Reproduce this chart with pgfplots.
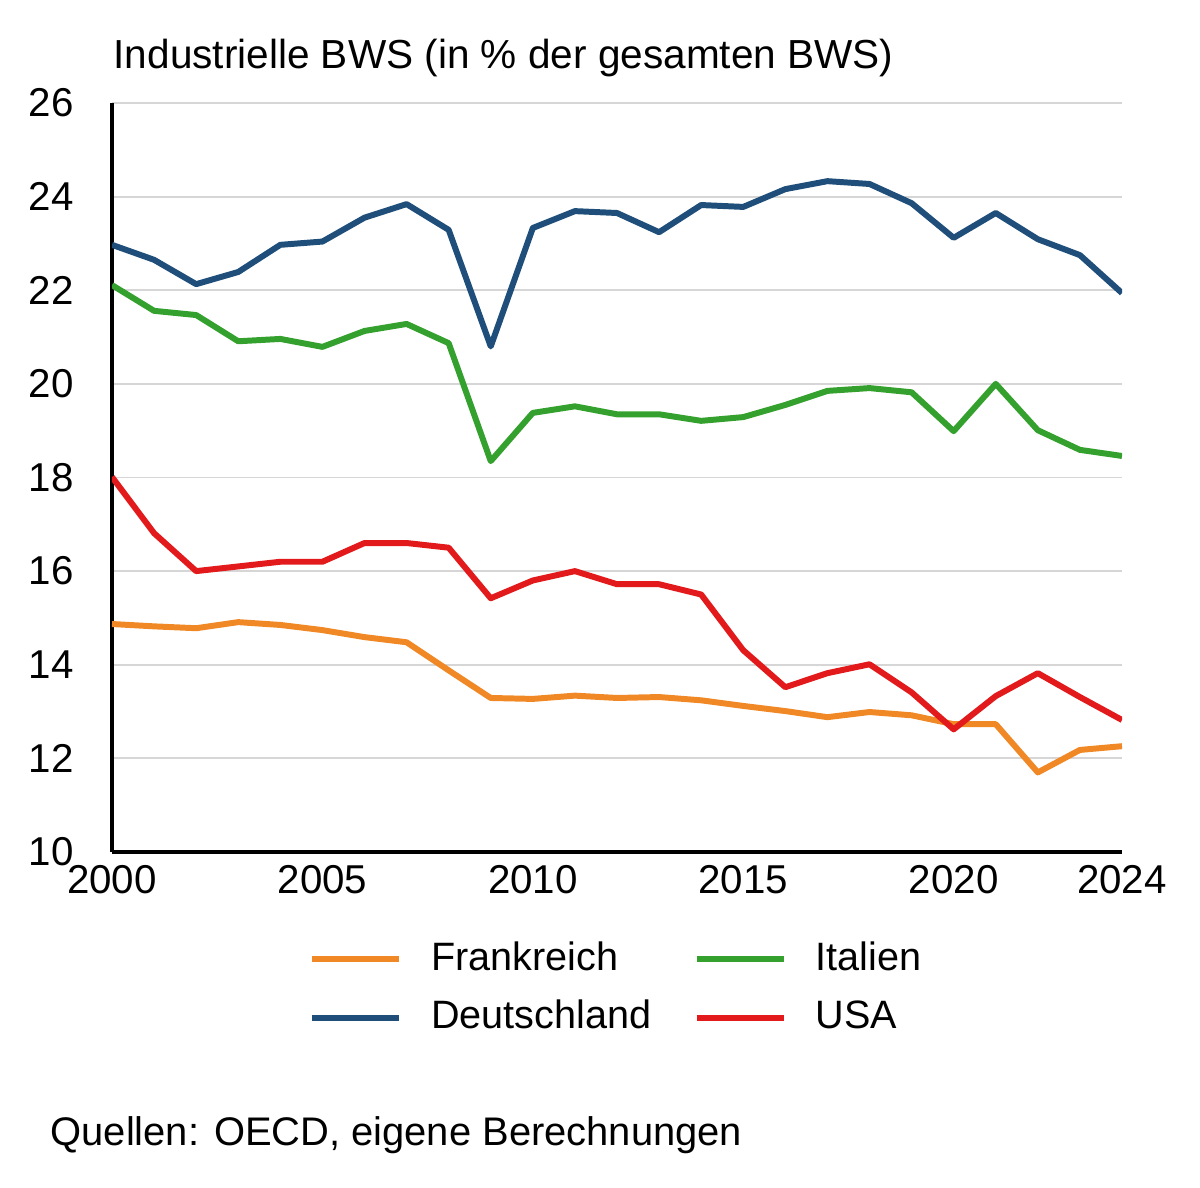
\documentclass[border=0pt]{standalone}
\usepackage{pgfplots}
\pgfplotsset{compat=1.18}
\usepackage{fontspec}
\setmainfont{Liberation Sans}
\definecolor{cFR}{RGB}{240,136,38}
\definecolor{cIT}{RGB}{52,160,45}
\definecolor{cDE}{RGB}{30,78,121}
\definecolor{cUS}{RGB}{226,26,28}
\definecolor{cGrid}{RGB}{214,214,214}
\begin{document}
\fontsize{14}{16}\selectfont
\begin{tikzpicture}
\path[use as bounding box] (-40.32pt,-120.96pt) rectangle (391.68pt,306.72pt);
\begin{axis}[
  at={(0,0)}, anchor=south west,
  scale only axis, width=363.6pt, height=269.64pt,
  xmin=2000, xmax=2024, ymin=10, ymax=26,
  xtick={2000,2005,2010,2015,2020,2024},
  ytick={10,12,14,16,18,20,22,24,26},
  axis x line=bottom, axis y line=left,
  axis line style={-, line width=1.1pt, black},
  major tick length=0pt,
  ymajorgrids, grid style={line width=0.7pt, cGrid},
  /pgf/number format/assume math mode=true,
  /pgf/number format/1000 sep={},
  ticklabel style={font=\fontsize{14.5}{16}\selectfont},
  yticklabel style={xshift=-9pt},
  every axis plot/.append style={line width=2.15pt, line join=round, mark=none},
  legend columns=2,
  legend cell align=left,
  legend style={draw=none, fill=none, at={(axis description cs:0.1862,-0.1043)}, anchor=north west,
    font=\fontsize{14.25}{16}\selectfont, row sep=4.65pt,
    /tikz/every odd column/.append style={column sep=8.6pt},
    /tikz/every even column/.append style={column sep=13.2pt}},
  legend image code/.code={\draw[#1] (0pt,0pt) -- (31.3pt,0pt);},
]
\addplot[cFR] coordinates {
(2000,14.87)(2001,14.82)(2002,14.78)(2003,14.91)(2004,14.85)(2005,14.74)(2006,14.59)(2007,14.48)
(2008,13.88)(2009,13.29)(2010,13.27)(2011,13.34)(2012,13.29)(2013,13.31)(2014,13.24)(2015,13.12)
(2016,13.01)(2017,12.88)(2018,12.99)(2019,12.92)(2020,12.73)(2021,12.73)(2022,11.70)(2023,12.18)(2024,12.26)};
\addlegendentry{Frankreich}
\addplot[cIT] coordinates {
(2000,22.11)(2001,21.56)(2002,21.47)(2003,20.91)(2004,20.96)(2005,20.79)(2006,21.13)(2007,21.28)
(2008,20.87)(2009,18.35)(2010,19.38)(2011,19.52)(2012,19.35)(2013,19.35)(2014,19.21)(2015,19.29)
(2016,19.55)(2017,19.85)(2018,19.91)(2019,19.82)(2020,18.99)(2021,20.00)(2022,19.01)(2023,18.59)(2024,18.46)};
\addlegendentry{Italien}
\addplot[cDE] coordinates {
(2000,22.97)(2001,22.65)(2002,22.13)(2003,22.39)(2004,22.97)(2005,23.04)(2006,23.55)(2007,23.84)
(2008,23.29)(2009,20.80)(2010,23.33)(2011,23.69)(2012,23.65)(2013,23.24)(2014,23.82)(2015,23.78)
(2016,24.16)(2017,24.33)(2018,24.27)(2019,23.86)(2020,23.12)(2021,23.65)(2022,23.09)(2023,22.75)(2024,21.94)};
\addlegendentry{Deutschland}
\addplot[cUS] coordinates {
(2000,18.01)(2001,16.81)(2002,16.00)(2003,16.10)(2004,16.20)(2005,16.20)(2006,16.60)(2007,16.60)
(2008,16.50)(2009,15.42)(2010,15.80)(2011,16.00)(2012,15.72)(2013,15.72)(2014,15.50)(2015,14.31)
(2016,13.52)(2017,13.82)(2018,14.01)(2019,13.41)(2020,12.62)(2021,13.33)(2022,13.82)(2023,13.31)(2024,12.82)};
\addlegendentry{USA}
\end{axis}
\node[anchor=base west, inner sep=0pt, font=\fontsize{14.6}{16}\selectfont] at (0.4pt,282.2pt) {Industrielle BWS (in \% der gesamten BWS)};
\node[anchor=base west, inner sep=0pt, font=\fontsize{14.37}{16}\selectfont] at (-22.3pt,-105.5pt) {Quellen: OECD, eigene Berechnungen};
\end{tikzpicture}
\end{document}
